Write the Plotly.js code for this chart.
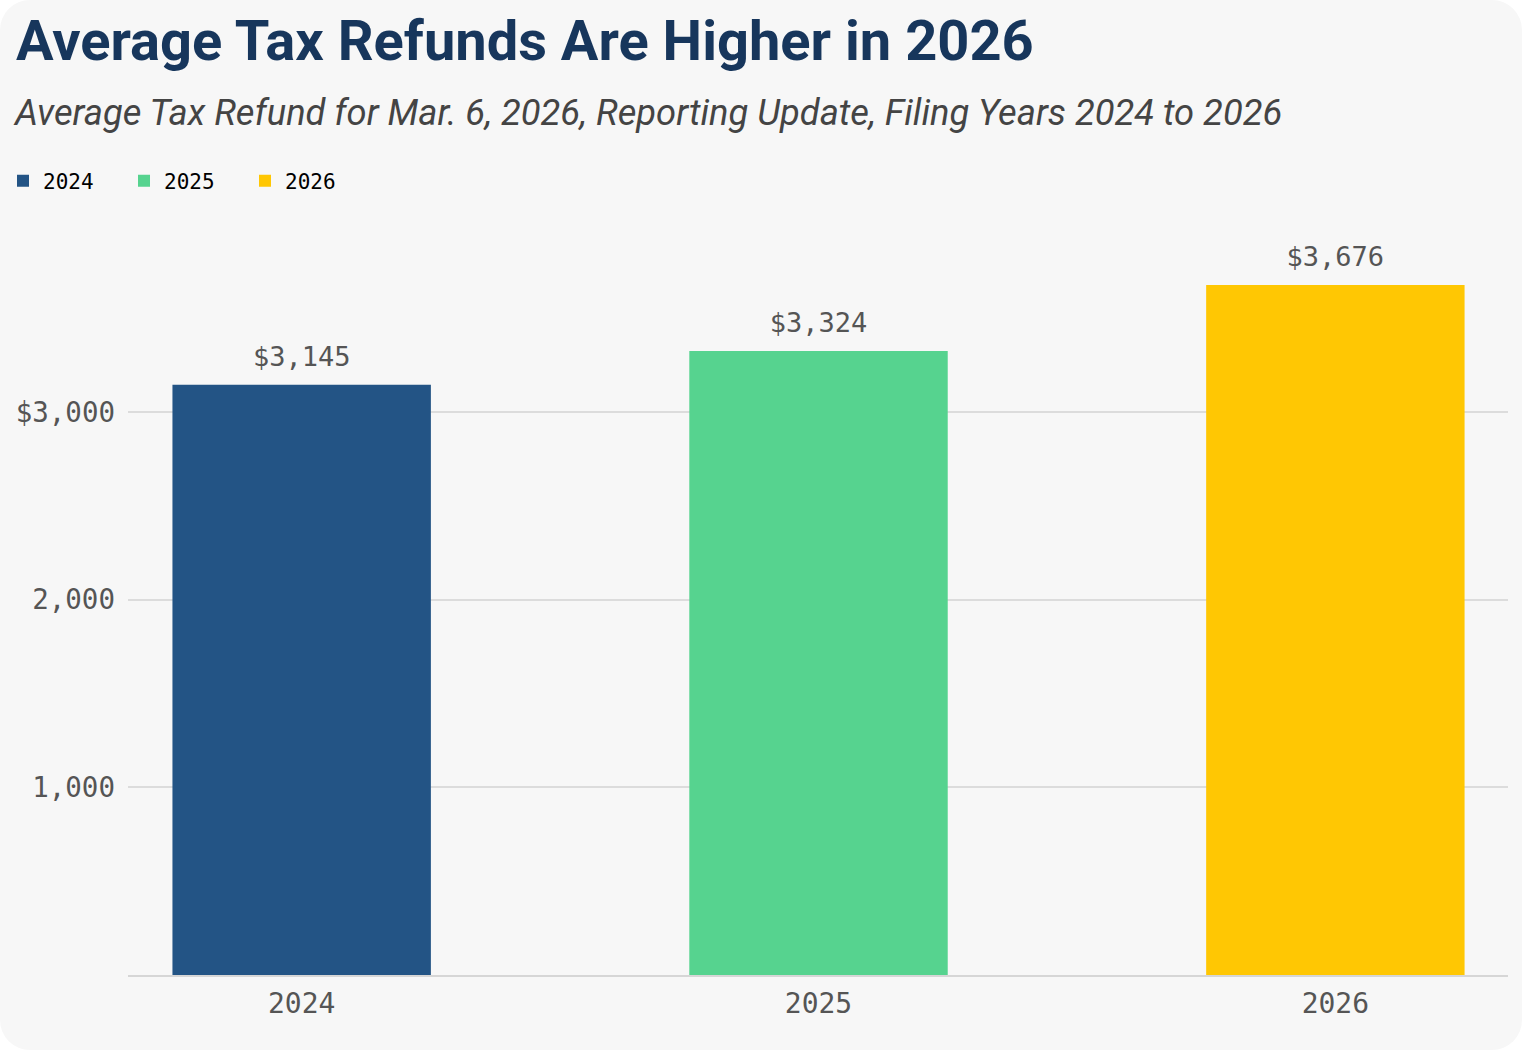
<!DOCTYPE html>
<html>
<head>
<meta charset="utf-8">
<script src="https://cdn.plot.ly/plotly-3.0.1.min.js"></script>
<style>
  html, body { margin: 0; padding: 0; background: #ffffff; }
  #chart { width: 1522px; height: 1050px; border-radius: 30px; overflow: hidden; }
</style>
</head>
<body>
<div id="chart"></div>
<script>
const years = ['2024', '2025', '2026'];
const refunds = [3145, 3324, 3676];
const colors = ['#235485', '#56d38f', '#ffc703'];
const yTickVals = [1000, 2000, 3000];
const yTickText = ['1,000', '2,000', '$3,000'];

const mono = 'DejaVu Sans Mono, monospace';

const barTraces = years.map((yr, i) => ({
  type: 'bar',
  name: yr,
  x: [yr],
  y: [refunds[i]],
  width: 0.5,
  marker: { color: colors[i] },
  hoverinfo: 'skip'
}));

const labelTrace = {
  type: 'scatter',
  mode: 'markers+text',
  x: years,
  y: refunds,
  text: refunds.map(v => '$' + v.toLocaleString('en-US')),
  textposition: 'top center',
  marker: { size: 18, opacity: 0, color: '#f7f7f7' },
  textfont: { family: mono, size: 27, color: '#555555' },
  cliponaxis: false,
  showlegend: false,
  hoverinfo: 'skip'
};

const layout = {
  width: 1522,
  height: 1050,
  paper_bgcolor: '#f7f7f7',
  plot_bgcolor: '#f7f7f7',
  margin: { l: 128, r: 14, t: 243, b: 75, autoexpand: false },
  barmode: 'overlay',
  showlegend: true,
  title: {
    text: 'Average Tax Refunds Are Higher in 2026',
    font: { family: 'Roboto, sans-serif', size: 56, color: '#17365c', weight: 700 },
    x: 16 / 1522, xref: 'container', xanchor: 'left',
    y: 1 - 40 / 1050, yref: 'container', yanchor: 'middle'
  },
  annotations: [{
    text: '<i>Average Tax Refund for Mar. 6, 2026, Reporting Update, Filing Years 2024 to 2026</i>',
    xref: 'paper', yref: 'paper',
    x: (11 - 128) / 1380, xanchor: 'left',
    y: (975 - 113) / 732, yanchor: 'middle',
    showarrow: false,
    font: { family: 'Roboto, sans-serif', size: 36.3, color: '#444444' }
  }],
  legend: {
    orientation: 'h',
    xref: 'container', yref: 'container',
    x: 3 / 1522, xanchor: 'left',
    y: 1 - 181 / 1050, yanchor: 'middle',
    font: { family: mono, size: 21, color: '#000000' },
    bgcolor: 'rgba(0,0,0,0)',
    itemwidth: 30,
    entrywidth: 76,
    entrywidthmode: 'pixels',
    traceorder: 'normal'
  },
  xaxis: {
    type: 'category',
    range: [-0.336, 2.334],
    automargin: false,
    showgrid: false,
    showline: true,
    linecolor: '#d6d6d6',
    linewidth: 2,
    ticks: '',
    ticklabelstandoff: 2,
    tickfont: { family: mono, size: 28, color: '#555555' },
    fixedrange: true
  },
  yaxis: {
    range: [0, 3900],
    automargin: false,
    tickvals: yTickVals,
    ticktext: yTickText,
    showgrid: true,
    gridcolor: '#dcdcdc',
    gridwidth: 2,
    zeroline: false,
    showline: false,
    ticks: '',
    ticklabelstandoff: 12,
    tickfont: { family: mono, size: 27.5, color: '#555555' },
    fixedrange: true
  }
};

Plotly.newPlot('chart', barTraces.concat([labelTrace]), layout, { displayModeBar: false, staticPlot: true });
</script>
</body>
</html>
